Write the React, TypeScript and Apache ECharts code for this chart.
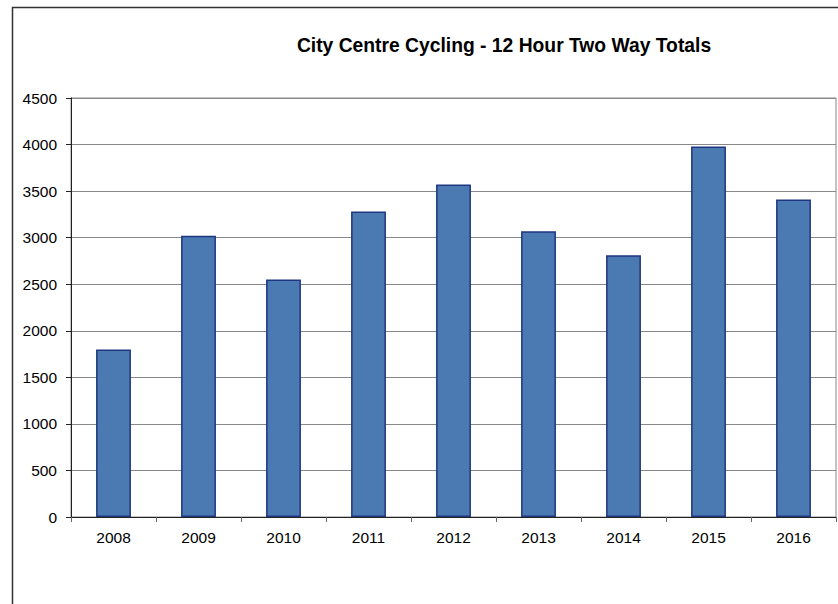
import React, { useEffect, useRef } from "react";
import * as echarts from "echarts";

const years = ["2008", "2009", "2010", "2011", "2012", "2013", "2014", "2015", "2016"];
const totals = [1800, 3020, 2550, 3280, 3570, 3070, 2810, 3980, 3410];
const titleText = "City Centre Cycling - 12 Hour Two Way Totals";

export default function App() {
  const ref = useRef<HTMLDivElement>(null);
  useEffect(() => {
    document.body.style.margin = "0";
    const chart = echarts.init(ref.current!, null, { renderer: "svg" });
    const font = "'Liberation Sans', Arial, sans-serif";
    chart.setOption({
      animation: false,
      backgroundColor: "#ffffff",
      title: {
        text: titleText,
        left: 499,
        textAlign: "center",
        top: 31,
        textStyle: { fontFamily: font, fontSize: 19.3, fontWeight: "bold", color: "#000" },
      },
      graphic: [
        {
          type: "rect",
          shape: { x: 12.5, y: 7.5, width: 900, height: 700 },
          style: { fill: "none", stroke: "#333", lineWidth: 1.5 },
          silent: true,
          z: -1,
        },
      ],
      grid: {
        left: 71,
        right: 2,
        top: 98,
        bottom: 87,
        show: true,
        borderColor: "#888",
        borderWidth: 1,
        backgroundColor: "transparent",
      },
      xAxis: {
        type: "category",
        data: years,
        axisLine: { show: true, lineStyle: { color: "#222", width: 1 } },
        axisTick: { show: true, length: 5, inside: false, lineStyle: { color: "#666" } },
        axisLabel: { fontFamily: font, fontSize: 15.5, color: "#000", margin: 12 },
      },
      yAxis: {
        type: "value",
        min: 0,
        max: 4500,
        interval: 500,
        axisLine: { show: true, lineStyle: { color: "#222", width: 1 } },
        axisTick: { show: true, length: 5, lineStyle: { color: "#222" } },
        axisLabel: {
          fontFamily: font,
          fontSize: 15.5,
          color: "#000",
          margin: 14,
          formatter: (v: number) => String(v),
        },
        splitLine: { show: true, lineStyle: { color: "#888", width: 1 } },
      },
      series: [
        {
          type: "bar",
          data: totals,
          barWidth: "41%",
          itemStyle: { color: "#4a7ab1", borderColor: "#1f3680", borderWidth: 1.5 },
        },
      ],
    });
    return () => chart.dispose();
  }, []);
  return <div ref={ref} style={{ width: 838, height: 604 }} />;
}
